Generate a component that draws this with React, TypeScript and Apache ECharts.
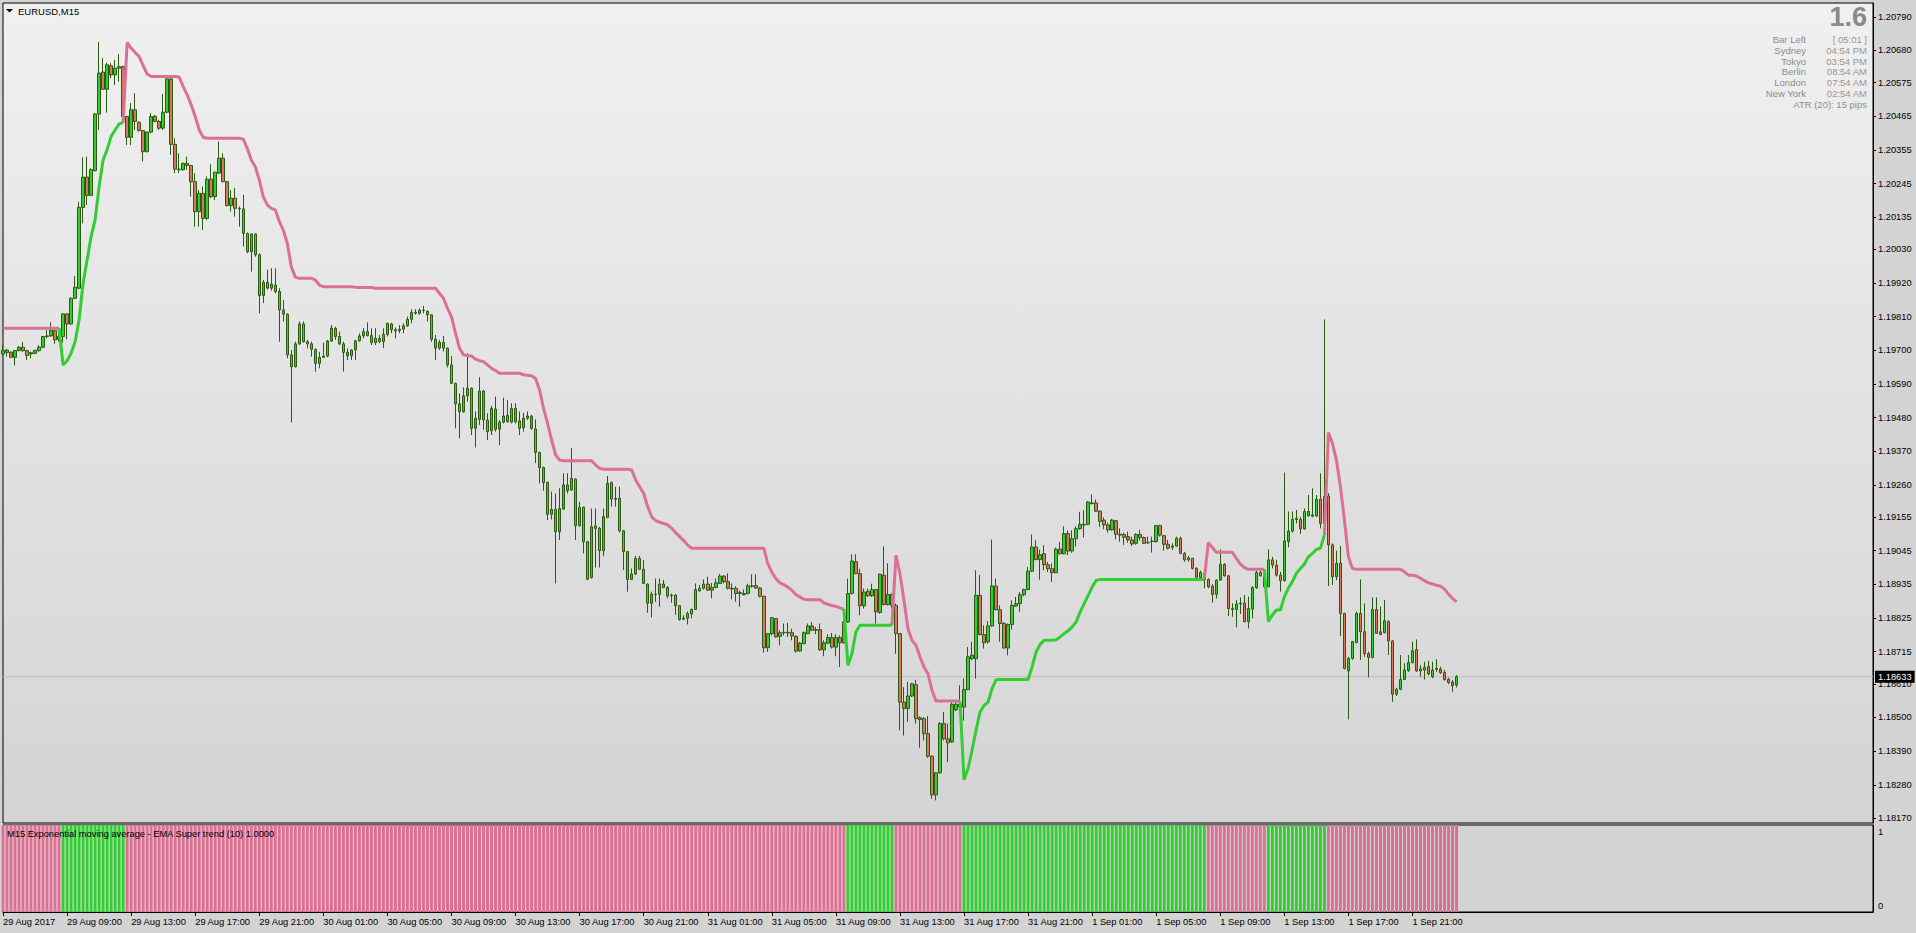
import React, { useEffect, useRef } from "react";
import * as echarts from "echarts";

// ---------- DATA ----------
const symbolTitle = "EURUSD,M15";
const indicatorTitle = "M15 Exponential moving average - EMA Super trend (10) 1.0000";
const firstDateLabel = "29 Aug 2017";
const startTimeUtc = Date.UTC(2017, 7, 29, 5, 0); // first bar, M15 bars
const slotCount = 468; // bar slots across the window (chart shifted left)
const labelEvery = 16; // a time label every 4 hours
const lastPrice = 1.18633;

const priceTicks = [
  1.1817, 1.1828, 1.1839, 1.185, 1.1861, 1.18715, 1.18825, 1.18935, 1.19045, 1.19155, 1.1926, 1.1937, 1.1948,
  1.1959, 1.197, 1.1981, 1.1992, 1.2003, 1.20135, 1.20245, 1.20355, 1.20465, 1.20575, 1.2068, 1.2079,
];

const infoLabels = ["Bar Left", "Sydney", "Tokyo", "Berlin", "London", "New York"];
const infoValues = ["[ 05:01 ]", "04:54 PM", "03:54 PM", "08:54 AM", "07:54 AM", "02:54 AM"];
const atrText = "ATR (20): 15 pips";
const spreadText = "1.6";

const openP = [
  1.19688,1.19693,1.19694,1.19677,1.19699,1.19710,1.19699,1.19688,1.19690,1.19699,
  1.19710,1.19745,1.19747,1.19764,1.19736,1.19745,1.19819,1.19786,1.19870,1.19903,
  1.20167,1.20266,1.20206,1.20287,1.20472,1.20609,1.20553,1.20630,1.20600,1.20622,
  1.20627,1.20464,1.20396,1.20486,1.20445,1.20418,1.20349,1.20413,1.20465,1.20448,
  1.20426,1.20478,1.20587,1.20373,1.20292,1.20290,1.20311,1.20304,1.20251,1.20153,
  1.20213,1.20131,1.20259,1.20202,1.20279,1.20328,1.20251,1.20173,1.20197,1.20164,
  1.20162,1.20082,1.20022,1.20080,1.20012,1.19879,1.19922,1.19903,1.19913,1.19892,
  1.19832,1.19818,1.19685,1.19646,1.19721,1.19786,1.19728,1.19721,1.19703,1.19657,
  1.19677,1.19681,1.19730,1.19772,1.19745,1.19721,1.19693,1.19682,1.19701,1.19731,
  1.19747,1.19761,1.19748,1.19725,1.19739,1.19728,1.19752,1.19786,1.19767,1.19765,
  1.19769,1.19780,1.19801,1.19824,1.19821,1.19831,1.19828,1.19816,1.19736,1.19707,
  1.19726,1.19707,1.19652,1.19592,1.19525,1.19499,1.19551,1.19576,1.19445,1.19474,
  1.19567,1.19472,1.19437,1.19508,1.19442,1.19465,1.19487,1.19465,1.19510,1.19469,
  1.19447,1.19478,1.19485,1.19443,1.19366,1.19317,1.19268,1.19164,1.19180,1.19107,
  1.19181,1.19260,1.19243,1.19279,1.19127,1.19187,1.19074,1.18957,1.19126,1.19118,
  1.19045,1.19154,1.19268,1.19216,1.19216,1.19110,1.19042,1.18951,1.18969,1.19020,
  1.18984,1.18936,1.18873,1.18903,1.18902,1.18936,1.18925,1.18900,1.18900,1.18865,
  1.18821,1.18824,1.18838,1.18853,1.18914,1.18922,1.18936,1.18916,1.18925,1.18938,
  1.18962,1.18944,1.18922,1.18922,1.18905,1.18905,1.18905,1.18930,1.18931,1.18923,
  1.18896,1.18728,1.18774,1.18823,1.18765,1.18777,1.18778,1.18777,1.18765,1.18717,
  1.18741,1.18774,1.18799,1.18785,1.18787,1.18721,1.18743,1.18761,1.18730,1.18761,
  1.18744,1.18812,1.18905,1.19009,1.18970,1.18865,1.18912,1.18898,1.18918,1.18843,
  1.18965,1.18869,1.18902,1.18866,1.18774,1.18550,1.18529,1.18570,1.18607,1.18499,
  1.18496,1.18447,1.18373,1.18247,1.18319,1.18480,1.18430,1.18420,1.18525,1.18543,
  1.18534,1.18591,1.18692,1.18692,1.18899,1.18771,1.18747,1.18799,1.18929,1.18852,
  1.18807,1.18727,1.18804,1.18864,1.18872,1.18901,1.18918,1.18978,1.19057,1.19016,
  1.19035,1.18999,1.18986,1.18973,1.19050,1.19035,1.19101,1.19044,1.19084,1.19117,
  1.19131,1.19131,1.19201,1.19201,1.19174,1.19145,1.19129,1.19113,1.19143,1.19099,
  1.19098,1.19091,1.19080,1.19069,1.19098,1.19088,1.19071,1.19075,1.19075,1.19127,
  1.19094,1.19066,1.19056,1.19060,1.19086,1.19036,1.19015,1.19020,1.18987,1.18957,
  1.18971,1.18951,1.18929,1.18902,1.18949,1.19000,1.18963,1.18856,1.18853,1.18871,
  1.18874,1.18813,1.18854,1.18924,1.18974,1.18963,1.18927,1.19015,1.18998,1.18965,
  1.18947,1.19075,1.19109,1.19147,1.19147,1.19116,1.19159,1.19162,1.19158,1.19213,
  1.19134,1.19224,1.19064,1.18960,1.19004,1.18840,1.18652,1.18693,1.18745,1.18840,
  1.18780,1.18709,1.18696,1.18853,1.18780,1.18777,1.18813,1.18750,1.18576,1.18592,
  1.18624,1.18653,1.18679,1.18722,1.18652,1.18655,1.18666,1.18633,1.18657,1.18658,
  1.18647,1.18625,1.18616,1.18606,
];

const highP = [
  1.19717,1.19704,1.19695,1.19701,1.19714,1.19727,1.19701,1.19695,1.19701,1.19717,
  1.19747,1.19766,1.19792,1.19768,1.19772,1.19821,1.19821,1.19873,1.19943,1.20185,
  1.20331,1.20333,1.20295,1.20475,1.20708,1.20655,1.20640,1.20638,1.20649,1.20668,
  1.20630,1.20466,1.20508,1.20540,1.20448,1.20420,1.20415,1.20475,1.20469,1.20453,
  1.20538,1.20589,1.20589,1.20393,1.20344,1.20313,1.20333,1.20306,1.20279,1.20224,
  1.20235,1.20268,1.20308,1.20284,1.20382,1.20344,1.20254,1.20224,1.20230,1.20170,
  1.20208,1.20085,1.20082,1.20082,1.20017,1.19930,1.19963,1.19968,1.19968,1.19903,
  1.19864,1.19821,1.19701,1.19728,1.19794,1.19794,1.19734,1.19728,1.19706,1.19695,
  1.19725,1.19734,1.19783,1.19777,1.19761,1.19728,1.19706,1.19703,1.19734,1.19755,
  1.19772,1.19791,1.19772,1.19772,1.19750,1.19772,1.19790,1.19790,1.19774,1.19783,
  1.19788,1.19810,1.19834,1.19834,1.19837,1.19845,1.19830,1.19818,1.19750,1.19734,
  1.19747,1.19709,1.19681,1.19594,1.19559,1.19579,1.19690,1.19579,1.19500,1.19612,
  1.19570,1.19494,1.19518,1.19549,1.19472,1.19545,1.19538,1.19527,1.19527,1.19500,
  1.19496,1.19500,1.19489,1.19474,1.19369,1.19320,1.19271,1.19238,1.19232,1.19249,
  1.19298,1.19298,1.19380,1.19281,1.19205,1.19189,1.19077,1.19183,1.19183,1.19123,
  1.19183,1.19289,1.19271,1.19254,1.19254,1.19113,1.19044,1.18987,1.19028,1.19028,
  1.19014,1.18938,1.18911,1.18954,1.18954,1.18949,1.18929,1.18905,1.18903,1.18867,
  1.18834,1.18846,1.18856,1.18938,1.18933,1.18951,1.18960,1.18940,1.18954,1.18969,
  1.18965,1.18971,1.18938,1.18929,1.18914,1.18918,1.18937,1.18968,1.18968,1.18926,
  1.18898,1.18776,1.18828,1.18825,1.18785,1.18807,1.18809,1.18790,1.18768,1.18747,
  1.18781,1.18807,1.18812,1.18796,1.18807,1.18752,1.18772,1.18776,1.18772,1.18768,
  1.18817,1.18954,1.19033,1.19033,1.18986,1.18921,1.18921,1.18937,1.18920,1.18970,
  1.19059,1.19004,1.18905,1.18872,1.18776,1.18599,1.18616,1.18613,1.18623,1.18504,
  1.18501,1.18504,1.18376,1.18321,1.18485,1.18518,1.18480,1.18550,1.18550,1.18605,
  1.18627,1.18730,1.18747,1.18981,1.18965,1.18801,1.18815,1.19081,1.18954,1.18866,
  1.18812,1.18807,1.18883,1.18894,1.18910,1.18921,1.18992,1.19098,1.19079,1.19049,
  1.19063,1.19008,1.19003,1.19055,1.19074,1.19125,1.19112,1.19112,1.19125,1.19172,
  1.19177,1.19207,1.19229,1.19212,1.19177,1.19154,1.19137,1.19149,1.19145,1.19118,
  1.19104,1.19107,1.19091,1.19102,1.19113,1.19091,1.19091,1.19091,1.19129,1.19130,
  1.19096,1.19080,1.19069,1.19091,1.19091,1.19041,1.19028,1.19022,1.18991,1.18980,
  1.18976,1.18955,1.18936,1.18951,1.19049,1.19004,1.18965,1.18873,1.18884,1.18892,
  1.18900,1.18895,1.18929,1.18980,1.18980,1.18976,1.19049,1.19025,1.19015,1.18976,
  1.19300,1.19173,1.19173,1.19178,1.19156,1.19183,1.19227,1.19249,1.19227,1.19298,
  1.19801,1.19233,1.19069,1.19045,1.19060,1.18842,1.18698,1.18750,1.18846,1.18951,
  1.18873,1.18715,1.18892,1.18892,1.18862,1.18884,1.18818,1.18753,1.18597,1.18704,
  1.18677,1.18704,1.18747,1.18755,1.18671,1.18682,1.18685,1.18682,1.18690,1.18666,
  1.18655,1.18630,1.18622,1.18638,
];

const lowP = [
  1.19685,1.19679,1.19675,1.19650,1.19697,1.19695,1.19668,1.19674,1.19688,1.19695,
  1.19706,1.19739,1.19745,1.19721,1.19728,1.19725,1.19736,1.19783,1.19867,1.19899,
  1.20115,1.20175,1.20204,1.20284,1.20420,1.20551,1.20477,1.20589,1.20567,1.20578,
  1.20442,1.20371,1.20371,1.20420,1.20415,1.20317,1.20347,1.20409,1.20445,1.20420,
  1.20420,1.20475,1.20339,1.20279,1.20279,1.20287,1.20290,1.20202,1.20104,1.20104,
  1.20093,1.20126,1.20197,1.20191,1.20276,1.20249,1.20170,1.20153,1.20137,1.20104,
  1.20039,1.20017,1.19957,1.20006,1.19821,1.19854,1.19899,1.19895,1.19886,1.19728,
  1.19794,1.19674,1.19464,1.19644,1.19717,1.19725,1.19706,1.19679,1.19630,1.19641,
  1.19674,1.19677,1.19728,1.19734,1.19717,1.19630,1.19668,1.19668,1.19668,1.19728,
  1.19739,1.19745,1.19717,1.19717,1.19723,1.19707,1.19745,1.19756,1.19739,1.19756,
  1.19756,1.19777,1.19788,1.19816,1.19816,1.19821,1.19794,1.19728,1.19668,1.19701,
  1.19696,1.19644,1.19590,1.19445,1.19412,1.19496,1.19532,1.19423,1.19383,1.19456,
  1.19440,1.19407,1.19423,1.19434,1.19390,1.19461,1.19463,1.19461,1.19461,1.19423,
  1.19434,1.19472,1.19440,1.19331,1.19265,1.19241,1.19145,1.19147,1.18938,1.19080,
  1.19178,1.19232,1.19241,1.19080,1.19123,1.19036,1.18949,1.18954,1.18990,1.18990,
  1.19027,1.19151,1.19189,1.19189,1.19104,1.18982,1.18911,1.18949,1.18965,1.18982,
  1.18936,1.18842,1.18827,1.18878,1.18862,1.18922,1.18889,1.18875,1.18835,1.18816,
  1.18818,1.18804,1.18824,1.18851,1.18911,1.18918,1.18914,1.18889,1.18922,1.18936,
  1.18938,1.18918,1.18886,1.18878,1.18862,1.18899,1.18902,1.18924,1.18921,1.18892,
  1.18712,1.18714,1.18768,1.18761,1.18736,1.18768,1.18763,1.18752,1.18712,1.18714,
  1.18739,1.18772,1.18783,1.18772,1.18717,1.18700,1.18739,1.18725,1.18700,1.18665,
  1.18741,1.18809,1.18902,1.18968,1.18834,1.18856,1.18894,1.18894,1.18807,1.18839,
  1.18866,1.18866,1.18856,1.18708,1.18458,1.18441,1.18485,1.18567,1.18480,1.18401,
  1.18425,1.18368,1.18234,1.18229,1.18316,1.18425,1.18354,1.18417,1.18521,1.18518,
  1.18490,1.18589,1.18687,1.18627,1.18768,1.18725,1.18741,1.18796,1.18850,1.18747,
  1.18725,1.18703,1.18787,1.18861,1.18845,1.18896,1.18916,1.18975,1.19014,1.18950,
  1.18981,1.18975,1.18943,1.18972,1.19033,1.19033,1.19030,1.19038,1.19059,1.19114,
  1.19088,1.19128,1.19196,1.19172,1.19123,1.19115,1.19104,1.19110,1.19082,1.19074,
  1.19064,1.19071,1.19060,1.19064,1.19078,1.19067,1.19067,1.19039,1.19071,1.19091,
  1.19045,1.19049,1.19047,1.19058,1.19034,1.19009,1.19009,1.18984,1.18955,1.18951,
  1.18922,1.18922,1.18875,1.18889,1.18947,1.18960,1.18831,1.18829,1.18794,1.18838,
  1.18810,1.18791,1.18824,1.18920,1.18960,1.18922,1.18925,1.18987,1.18960,1.18911,
  1.18944,1.19056,1.19104,1.19134,1.19100,1.19113,1.19156,1.19154,1.19156,1.19118,
  1.19100,1.18929,1.18933,1.18949,1.18766,1.18657,1.18494,1.18688,1.18742,1.18688,
  1.18698,1.18631,1.18693,1.18773,1.18769,1.18775,1.18704,1.18551,1.18570,1.18589,
  1.18622,1.18649,1.18677,1.18649,1.18633,1.18624,1.18638,1.18628,1.18649,1.18642,
  1.18620,1.18609,1.18584,1.18598,
];

const closeP = [
  1.19699,1.19701,1.19677,1.19699,1.19710,1.19699,1.19683,1.19692,1.19700,1.19710,
  1.19745,1.19747,1.19766,1.19734,1.19745,1.19819,1.19786,1.19870,1.19906,1.20167,
  1.20266,1.20206,1.20290,1.20472,1.20606,1.20553,1.20633,1.20600,1.20622,1.20627,
  1.20464,1.20396,1.20486,1.20448,1.20418,1.20349,1.20413,1.20464,1.20448,1.20426,
  1.20478,1.20587,1.20373,1.20292,1.20290,1.20311,1.20304,1.20251,1.20153,1.20213,
  1.20131,1.20259,1.20202,1.20282,1.20328,1.20251,1.20173,1.20197,1.20164,1.20162,
  1.20082,1.20022,1.20080,1.20012,1.19879,1.19922,1.19903,1.19916,1.19892,1.19832,
  1.19818,1.19685,1.19646,1.19721,1.19786,1.19728,1.19721,1.19703,1.19657,1.19677,
  1.19681,1.19730,1.19772,1.19745,1.19721,1.19693,1.19682,1.19701,1.19731,1.19747,
  1.19761,1.19748,1.19725,1.19739,1.19728,1.19752,1.19788,1.19767,1.19763,1.19769,
  1.19780,1.19801,1.19824,1.19821,1.19831,1.19830,1.19816,1.19736,1.19707,1.19726,
  1.19707,1.19652,1.19592,1.19525,1.19499,1.19551,1.19576,1.19445,1.19478,1.19567,
  1.19472,1.19434,1.19510,1.19442,1.19465,1.19485,1.19467,1.19510,1.19467,1.19445,
  1.19478,1.19485,1.19445,1.19366,1.19317,1.19268,1.19164,1.19180,1.19107,1.19183,
  1.19260,1.19241,1.19281,1.19127,1.19187,1.19074,1.18952,1.19123,1.19118,1.19045,
  1.19156,1.19265,1.19214,1.19213,1.19110,1.19042,1.18951,1.18969,1.19020,1.18984,
  1.18938,1.18873,1.18903,1.18902,1.18936,1.18925,1.18897,1.18898,1.18865,1.18820,
  1.18824,1.18840,1.18853,1.18918,1.18922,1.18936,1.18916,1.18925,1.18940,1.18962,
  1.18944,1.18922,1.18920,1.18905,1.18908,1.18901,1.18930,1.18929,1.18923,1.18896,
  1.18728,1.18774,1.18826,1.18763,1.18777,1.18778,1.18776,1.18766,1.18717,1.18743,
  1.18777,1.18799,1.18785,1.18787,1.18721,1.18744,1.18761,1.18730,1.18761,1.18744,
  1.18812,1.18905,1.19011,1.18970,1.18865,1.18910,1.18898,1.18918,1.18845,1.18968,
  1.18869,1.18902,1.18866,1.18774,1.18550,1.18529,1.18570,1.18610,1.18496,1.18493,
  1.18447,1.18373,1.18247,1.18319,1.18480,1.18430,1.18417,1.18543,1.18543,1.18534,
  1.18591,1.18698,1.18703,1.18899,1.18771,1.18744,1.18799,1.18930,1.18852,1.18807,
  1.18727,1.18804,1.18866,1.18872,1.18901,1.18918,1.18978,1.19057,1.19016,1.19032,
  1.18999,1.18986,1.18973,1.19050,1.19035,1.19101,1.19044,1.19084,1.19117,1.19131,
  1.19129,1.19204,1.19199,1.19174,1.19141,1.19129,1.19113,1.19145,1.19099,1.19096,
  1.19089,1.19080,1.19067,1.19098,1.19088,1.19069,1.19072,1.19076,1.19127,1.19096,
  1.19066,1.19053,1.19060,1.19086,1.19036,1.19015,1.19022,1.18987,1.18958,1.18974,
  1.18951,1.18927,1.18902,1.18949,1.19000,1.18963,1.18856,1.18853,1.18871,1.18874,
  1.18813,1.18856,1.18925,1.18974,1.18963,1.18927,1.19015,1.18998,1.18965,1.18947,
  1.19077,1.19109,1.19147,1.19151,1.19116,1.19173,1.19173,1.19158,1.19213,1.19134,
  1.19222,1.19064,1.18960,1.19004,1.18840,1.18660,1.18693,1.18748,1.18840,1.18780,
  1.18709,1.18696,1.18853,1.18775,1.18771,1.18816,1.18750,1.18576,1.18592,1.18624,
  1.18655,1.18679,1.18718,1.18652,1.18658,1.18664,1.18642,1.18655,1.18660,1.18646,
  1.18624,1.18614,1.18604,1.18633,
];

// Super-trend line, bearish (pink) stretches: first bar index + values
const downTrendSegments = [
  { from: 0, values: [1.19772,1.19772,1.19772,1.19772,1.19772,1.19772,1.19772,1.19772,1.19772,1.19772,1.19772,1.19772,1.19772,1.19772,1.19772] },
  { from: 30, values: [
    1.20444,
    1.20706,1.20687,1.20673,1.20660,1.20630,1.20603,
    1.20595,1.20595,1.20595,1.20595,1.20595,1.20595,1.20595,
    1.20593,1.20562,1.20535,1.20502,1.20464,1.20420,1.20396,
    1.20393,1.20393,1.20393,1.20393,1.20393,1.20393,1.20393,1.20393,1.20393,
    1.20390,1.20360,1.20322,1.20300,1.20257,1.20202,1.20175,1.20164,1.20159,1.20121,1.20093,1.20050,1.19973,1.19939,
    1.19935,1.19935,1.19935,1.19935,
    1.19930,1.19913,
    1.19908,1.19908,1.19908,1.19908,1.19908,1.19908,1.19908,1.19908,
    1.19906,
    1.19905,1.19905,1.19905,1.19905,
    1.19903,1.19903,1.19903,1.19903,1.19903,1.19903,1.19903,1.19903,1.19903,1.19903,1.19903,1.19903,1.19903,1.19903,1.19903,1.19903,
    1.19886,1.19870,1.19837,1.19810,1.19756,1.19707,1.19685,1.19683,1.19681,1.19671,1.19666,1.19663,1.19652,1.19641,1.19634,
    1.19625,1.19625,1.19625,1.19625,1.19625,1.19625,
    1.19620,1.19618,1.19617,1.19608,1.19570,1.19510,1.19461,1.19407,1.19358,1.19341,
    1.19339,1.19339,1.19339,1.19339,1.19339,1.19339,1.19339,1.19339,
    1.19325,1.19314,
    1.19311,1.19311,1.19311,1.19311,1.19311,1.19311,1.19311,
    1.19309,1.19276,1.19254,1.19232,1.19189,1.19156,1.19143,1.19138,1.19134,1.19129,1.19118,1.19104,1.19091,1.19078,1.19063,
    1.19053,1.19053,1.19053,1.19053,1.19053,1.19053,1.19053,1.19053,1.19053,1.19053,1.19053,1.19053,1.19053,1.19053,1.19053,1.19053,1.19053,1.19053,1.19053,
    1.19003,1.18975,1.18954,1.18940,1.18934,1.18926,1.18916,1.18902,1.18894,1.18886,
    1.18885,1.18885,1.18885,1.18885,
    1.18874,1.18870,1.18866,1.18863,1.18858,1.18854,
  ] },
  { from: 222, values: [
    1.18801,1.19030,1.18970,1.18883,1.18790,1.18752,1.18736,1.18698,1.18665,1.18643,1.18589,
    1.18554,1.18554,1.18554,1.18554,1.18554,1.18554,
    1.18553,
  ] },
  { from: 300, values: [
    1.18951,1.19071,1.19056,
    1.19040,1.19040,1.19040,1.19040,1.19040,
    1.19020,1.19001,1.18990,
    1.18984,1.18984,1.18984,1.18984,1.18984,
  ] },
  { from: 330, values: [
    1.19096,1.19431,1.19396,1.19341,1.19254,1.19145,1.19025,1.18987,
    1.18984,1.18984,1.18984,1.18984,1.18984,1.18984,1.18984,1.18984,1.18984,1.18984,1.18984,1.18984,
    1.18976,1.18965,1.18965,1.18962,1.18955,1.18947,1.18940,1.18936,1.18932,1.18929,1.18919,1.18903,1.18889,1.18878,
  ] },
];

// Super-trend line, bullish (green) stretches
const upTrendSegments = [
  { from: 14, values: [
    1.19772,1.19652,1.19666,1.19690,1.19728,1.19799,1.19919,1.19995,1.20072,1.20126,1.20235,1.20322,1.20355,1.20399,1.20420,1.20440,1.20444,
  ] },
  { from: 210, values: [
    1.18854,1.18670,1.18708,1.18779,
    1.18801,1.18801,1.18801,1.18801,1.18801,1.18801,1.18801,1.18801,1.18801,
  ] },
  { from: 239, values: [
    1.18553,1.18296,1.18332,1.18392,1.18458,1.18518,1.18539,1.18550,1.18594,1.18623,
    1.18624,1.18624,1.18624,1.18624,1.18624,1.18624,1.18624,1.18624,
    1.18665,1.18714,1.18739,1.18752,1.18752,1.18752,1.18754,1.18763,1.18774,1.18783,1.18796,1.18812,1.18845,1.18872,1.18899,1.18926,1.18948,
    1.18951,1.18951,1.18951,1.18951,1.18951,1.18951,1.18951,1.18951,1.18951,1.18951,1.18951,1.18951,1.18951,1.18951,
    1.18951,1.18951,1.18951,1.18951,1.18951,1.18951,1.18951,1.18951,1.18951,1.18951,1.18951,1.18951,1.18951,
  ] },
  { from: 315, values: [
    1.18984,1.18813,1.18835,1.18851,1.18851,1.18895,1.18922,1.18944,1.18971,1.18987,1.19001,1.19025,1.19036,1.19049,1.19053,1.19096,
  ] },
];

// ---------- STYLE ----------
const FONT = "'Liberation Sans', Arial, sans-serif";
const PINK = "#db7093";
const LIME = "#32cd32";
const BEAR_FILL = "#d9775b";
const CANDLE_LINE = "#2b5b12";
const OUTER_BG = "#d3d3d3";

const MONTHS = ["Jan", "Feb", "Mar", "Apr", "May", "Jun", "Jul", "Aug", "Sep", "Oct", "Nov", "Dec"];
const pad2 = (n: number) => (n < 10 ? "0" + n : "" + n);

function buildOption() {
  const n = openP.length;
  const categories: string[] = [];
  for (let i = 0; i < slotCount; i++) {
    const d = new Date(startTimeUtc + i * 15 * 60000);
    categories.push(
      `${d.getUTCDate()} ${MONTHS[d.getUTCMonth()]} ${pad2(d.getUTCHours())}:${pad2(d.getUTCMinutes())}`
    );
  }
  const candles = openP.map((o, i) => [o, closeP[i], lowP[i], highP[i]]);

  const downLine: (number | null)[] = new Array(n).fill(null);
  const upLine: (number | null)[] = new Array(n).fill(null);
  downTrendSegments.forEach((s) => s.values.forEach((v, j) => (downLine[s.from + j] = v)));
  upTrendSegments.forEach((s) => s.values.forEach((v, j) => (upLine[s.from + j] = v)));

  let prevUp = false;
  const hist = downLine.map((d, i) => {
    const u = upLine[i];
    let up = prevUp;
    if (d != null && u == null) up = false;
    else if (u != null && d == null) up = true;
    prevUp = up;
    return { value: 1, itemStyle: { color: up ? LIME : PINK } };
  });

  const showIdx = (idx: number) => idx % labelEvery === 0 && idx < n;

  const axisTxt = { color: "#000", fontSize: 9.3, fontFamily: FONT };

  // current-price line spans the whole window: first slot to last slot
  const priceLine = [
    [0, lastPrice],
    [slotCount - 1, lastPrice],
  ];

  return {
    animation: false,
    backgroundColor: OUTER_BG,
    textStyle: { fontFamily: FONT },
    grid: [
      {
        left: 3, top: 3, right: 43, height: 820, show: true, borderColor: "#000", borderWidth: 1,
        backgroundColor: {
          type: "linear", x: 0, y: 0, x2: 0, y2: 1,
          colorStops: [
            { offset: 0, color: "#f0f0f0" },
            { offset: 1, color: "#d4d4d4" },
          ],
        },
      },
      { left: 3, top: 825, right: 43, height: 87, show: true, borderColor: "#000", borderWidth: 1, backgroundColor: OUTER_BG },
    ],
    xAxis: [
      { type: "category", gridIndex: 0, data: categories, boundaryGap: false, show: false },
      {
        type: "category", gridIndex: 1, data: categories, boundaryGap: false,
        axisLine: { show: true, lineStyle: { color: "#000", width: 1 } },
        axisTick: { show: true, interval: showIdx, length: 4, lineStyle: { color: "#000" } },
        axisLabel: {
          ...axisTxt, interval: showIdx, align: "left", margin: 5,
          formatter: (v: string, idx: number) => (idx === 0 ? firstDateLabel : v),
        },
        splitLine: { show: false },
      },
    ],
    yAxis: [
      {
        type: "value", gridIndex: 0, position: "right", min: 1.18155, max: 1.20835,
        splitLine: { show: false },
        axisLine: { show: true, lineStyle: { color: "#000" } },
        axisTick: { show: true, customValues: priceTicks, length: 3, lineStyle: { color: "#000" } },
        axisLabel: { ...axisTxt, customValues: priceTicks, margin: 5, formatter: (v: number) => v.toFixed(5) },
      },
      { type: "value", gridIndex: 1, min: 0, max: 1, show: false },
      {
        type: "value", gridIndex: 1, position: "right", min: -0.0811, max: 1.0946,
        splitLine: { show: false },
        axisLine: { show: true, lineStyle: { color: "#000" } },
        axisTick: { show: false },
        axisLabel: { ...axisTxt, customValues: [0, 1], margin: 5 },
      },
    ],
    series: [
      {
        type: "line", xAxisIndex: 0, yAxisIndex: 0, data: priceLine, showSymbol: false, symbol: "none",
        silent: true, z: 1, clip: false,
        lineStyle: { color: "#bdbdbd", width: 1 },
        endLabel: {
          show: true, formatter: lastPrice.toFixed(5), color: "#fff", backgroundColor: "#000",
          padding: [2, 3, 1, 3], fontSize: 9.3, fontFamily: FONT, distance: 2,
        },
      },
      {
        type: "candlestick", xAxisIndex: 0, yAxisIndex: 0, data: candles, barWidth: 3, silent: true, z: 2,
        itemStyle: { color: LIME, color0: BEAR_FILL, borderColor: CANDLE_LINE, borderColor0: CANDLE_LINE, borderWidth: 1 },
      },
      {
        type: "line", xAxisIndex: 0, yAxisIndex: 0, data: downLine, showSymbol: false, symbol: "none",
        connectNulls: false, silent: true, lineStyle: { color: PINK, width: 3 }, z: 4,
      },
      {
        type: "line", xAxisIndex: 0, yAxisIndex: 0, data: upLine, showSymbol: false, symbol: "none",
        connectNulls: false, silent: true, lineStyle: { color: LIME, width: 3 }, z: 4,
      },
      {
        type: "bar", xAxisIndex: 1, yAxisIndex: 1, data: hist, barWidth: 3, silent: true,
        showBackground: true, backgroundStyle: { color: "#f0e8eb" },
      },
    ],
    graphic: [
      { type: "polygon", silent: true, shape: { points: [[6, 9], [13, 9], [9.5, 12.5]] }, style: { fill: "#000" }, z: 100 },
      {
        type: "text", x: 18, y: 11, silent: true, z: 100,
        style: { text: symbolTitle, fill: "#000", fontSize: 9.5, fontFamily: FONT, textVerticalAlign: "middle", verticalAlign: "middle" },
      },
      {
        type: "text", x: 7, y: 834, silent: true, z: 100,
        style: { text: indicatorTitle, fill: "#000", fontSize: 9.3, fontFamily: FONT, textVerticalAlign: "middle", verticalAlign: "middle" },
      },
      {
        type: "text", x: 1867, y: 17, silent: true, z: 100,
        style: {
          text: spreadText, fill: "#8a8a8a", fontSize: 27, fontWeight: "bold", fontFamily: FONT,
          textAlign: "right", align: "right", textVerticalAlign: "middle", verticalAlign: "middle",
        },
      },
      ...infoLabels.map((t, i) => ({
        type: "text", x: 1806, y: 39.5 + i * 10.8, silent: true, z: 100,
        style: {
          text: t, fill: "#8c8c8c", fontSize: 9.5, fontFamily: FONT,
          textAlign: "right", align: "right", textVerticalAlign: "middle", verticalAlign: "middle",
        },
      })),
      ...infoValues.map((t, i) => ({
        type: "text", x: 1867, y: 39.5 + i * 10.8, silent: true, z: 100,
        style: {
          text: t, fill: "#9c9690", fontSize: 9.5, fontFamily: FONT,
          textAlign: "right", align: "right", textVerticalAlign: "middle", verticalAlign: "middle",
        },
      })),
      {
        type: "text", x: 1867, y: 104, silent: true, z: 100,
        style: {
          text: atrText, fill: "#8c8c8c", fontSize: 9.5, fontFamily: FONT,
          textAlign: "right", align: "right", textVerticalAlign: "middle", verticalAlign: "middle",
        },
      },
    ],
  };
}

export default function App() {
  const ref = useRef<HTMLDivElement | null>(null);
  useEffect(() => {
    if (!ref.current) return;
    const chart = echarts.init(ref.current, undefined, { renderer: "svg" });
    chart.setOption(buildOption() as any);
    return () => chart.dispose();
  }, []);
  return (
    <div
      ref={ref}
      style={{ position: "fixed", left: 0, top: 0, width: 1916, height: 933, background: OUTER_BG }}
    />
  );
}
